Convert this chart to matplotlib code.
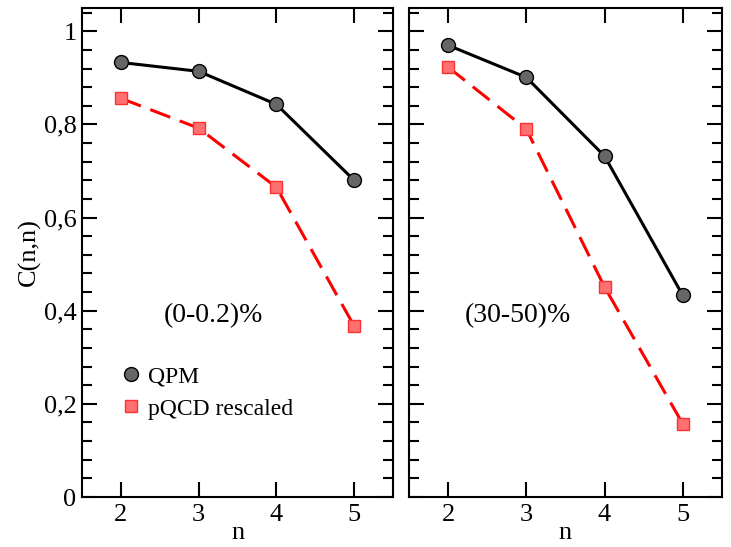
import matplotlib.pyplot as plt
import numpy as np
from matplotlib.ticker import MultipleLocator, FuncFormatter
from matplotlib.lines import Line2D

plt.rcParams['font.family'] = ['Liberation Serif', 'DejaVu Serif']

n = [2, 3, 4, 5]
qpm_central = [0.933, 0.914, 0.843, 0.680]
pqcd_central = [0.856, 0.792, 0.665, 0.367]
qpm_mid = [0.970, 0.901, 0.732, 0.433]
pqcd_mid = [0.923, 0.790, 0.451, 0.157]
labels = ['(0-0.2)%', '(30-50)%']

fig = plt.figure(figsize=(7.31, 5.47), dpi=100)
ax1 = fig.add_axes([0.1122, 0.0914, 0.4255, 0.894])
ax2 = fig.add_axes([0.5595, 0.0914, 0.4280, 0.894])

def comma(v, pos):
    if abs(v) < 1e-9:
        return '0'
    if abs(v - 1) < 1e-9:
        return '1'
    return ('%.1f' % v).replace('.', ',')

qstyle = dict(marker='o', ms=10, mfc='#666666', mec='black', mew=1.0)
pstyle = dict(marker='s', ms=9, mfc='#ff7070', mec='#ff3030', mew=1.0)

for ax, q, p, lab, lx in [(ax1, qpm_central, pqcd_central, labels[0], 0.421),
                          (ax2, qpm_mid, pqcd_mid, labels[1], 0.348)]:
    ax.plot(n, q, '-', color='black', lw=2.2, zorder=3, **qstyle)
    ax.plot(n, p, '--', color='#ff0000', lw=2.2, dashes=(7, 3.3), zorder=3, **pstyle)
    ax.set_xlim(1.5, 5.5)
    ax.set_ylim(0, 1.05)
    ax.xaxis.set_major_locator(MultipleLocator(1))
    ax.yaxis.set_major_locator(MultipleLocator(0.2))
    ax.yaxis.set_minor_locator(MultipleLocator(0.04))
    ax.tick_params(which='both', direction='in', top=True, right=True, width=1.5, labelsize=19)
    ax.tick_params(which='major', length=11)
    ax.tick_params(which='minor', length=7)
    ax.tick_params(axis='x', pad=5)
    ax.tick_params(axis='y', pad=4)
    for s in ax.spines.values():
        s.set_linewidth(1.5)
    ax.set_xlabel('n', fontsize=19, labelpad=-3)
    ax.text(lx, 0.37, lab, transform=ax.transAxes, ha='center', va='center', fontsize=20)

ax1.yaxis.set_major_formatter(FuncFormatter(comma))
ax1.set_ylabel('C(n,n)', fontsize=19, labelpad=2)
ax2.tick_params(axis='y', labelleft=False)

handles = [Line2D([], [], ls='none', **qstyle), Line2D([], [], ls='none', **pstyle)]
ax1.legend(handles, ['QPM', 'pQCD rescaled'], loc='center left', bbox_to_anchor=(0.065, 0.213),
           frameon=False, fontsize=17, handlelength=0.6, handletextpad=0.45, labelspacing=0.45)

fig.savefig('out.png', dpi=100)
